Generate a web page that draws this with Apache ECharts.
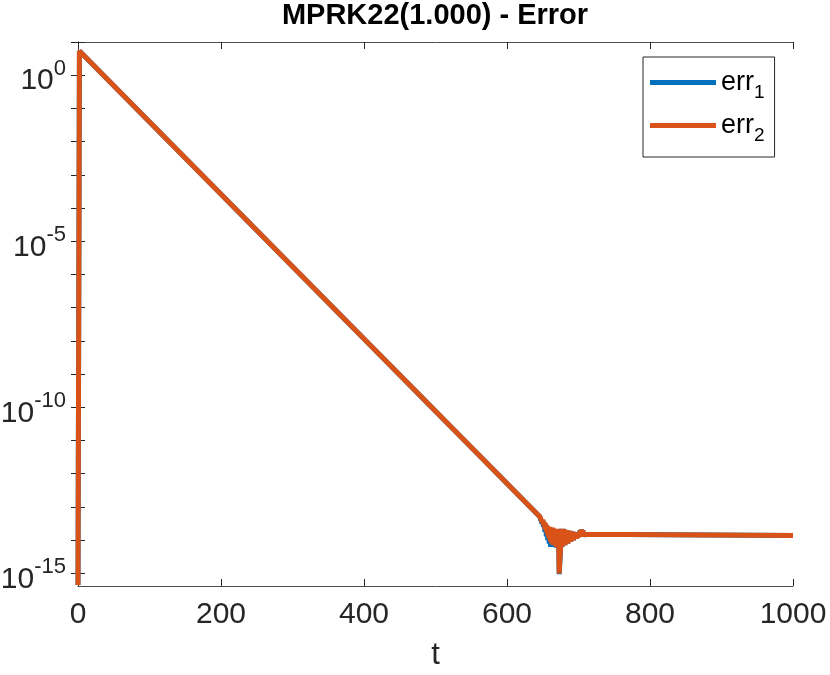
<!DOCTYPE html>
<html>
<head>
<meta charset="utf-8">
<title>MPRK22(1.000) - Error</title>
<script src="https://cdn.jsdelivr.net/npm/echarts@6/dist/echarts.min.js"></script>
<style>
  html, body { margin: 0; padding: 0; background: #fff; }
  #main { width: 830px; height: 675px; }
</style>
</head>
<body>
<div id="main"></div>
<script>
// time points (t); dense around the noisy part near t=650..710
var tVals = [0, 2,
  646, 647, 648, 649, 650, 651, 652, 653, 654, 655, 656, 657, 658, 659, 660,
  661, 662, 663, 664, 665, 666, 667, 668, 669, 670, 671, 672, 673, 674, 675,
  676, 677, 678, 679, 680, 681, 682, 683, 684, 685, 686, 687, 688, 689, 690,
  691, 692, 693, 694, 695, 696, 697, 698, 699, 700, 701, 702, 703, 704, 705,
  706, 707, 708, 709, 1000];

// err_1 (blue), mostly hidden under err_2
var err1 = [4.5e-16, 5.4,
  5.1e-14, 4.2e-14, 4.5e-14, 3.2e-14, 4.0e-14, 2.5e-14, 3.5e-14, 1.8e-14, 3.0e-14, 1.3e-14, 2.6e-14, 1.0e-14, 2.4e-14, 7.9e-15, 2.4e-14,
  6.3e-15, 2.3e-14, 6.3e-15, 2.3e-14, 6.3e-15, 2.1e-14, 6.3e-15, 2.1e-14, 6.0e-15, 2.1e-14, 6.0e-15, 1.9e-14, 9.5e-16, 9.0e-16, 6.0e-15,
  2.2e-14, 6.3e-15, 2.2e-14, 7.1e-15, 2.1e-14, 7.1e-15, 2.0e-14, 7.9e-15, 2.0e-14, 7.9e-15, 1.9e-14, 8.9e-15, 1.9e-14, 8.9e-15, 1.8e-14,
  1.0e-14, 1.8e-14, 1.0e-14, 1.7e-14, 1.1e-14, 1.7e-14, 1.1e-14, 1.6e-14, 1.2e-14, 1.6e-14, 1.3e-14, 1.9e-14, 1.3e-14, 2.1e-14, 1.3e-14,
  2.0e-14, 1.3e-14, 1.5e-14, 1.38e-14, 1.38e-14];

// err_2 (orange)
var err2 = [4.5e-16, 5.4,
  5.1e-14, 4.5e-14, 4.7e-14, 3.5e-14, 4.2e-14, 2.8e-14, 3.5e-14, 2.2e-14, 3.2e-14, 1.8e-14, 2.8e-14, 1.4e-14, 2.5e-14, 1.1e-14, 2.5e-14,
  8.9e-15, 2.4e-14, 7.9e-15, 2.4e-14, 7.1e-15, 2.2e-14, 7.1e-15, 2.2e-14, 6.3e-15, 2.2e-14, 6.3e-15, 2.0e-14, 1.0e-15, 9.5e-16, 6.3e-15,
  2.2e-14, 6.3e-15, 2.2e-14, 7.1e-15, 2.1e-14, 7.1e-15, 2.0e-14, 7.9e-15, 2.0e-14, 7.9e-15, 1.9e-14, 8.9e-15, 1.9e-14, 8.9e-15, 1.8e-14,
  1.0e-14, 1.8e-14, 1.0e-14, 1.7e-14, 1.1e-14, 1.7e-14, 1.1e-14, 1.6e-14, 1.2e-14, 1.6e-14, 1.3e-14, 1.9e-14, 1.3e-14, 2.1e-14, 1.3e-14,
  2.0e-14, 1.3e-14, 1.5e-14, 1.38e-14, 1.38e-14];

// decades (log10) : ticks on every decade, labels every 5
var yTickExp = [-15, -14, -13, -12, -11, -10, -9, -8, -7, -6, -5, -4, -3, -2, -1, 0, 1];
var yLabelExp = [-15, -10, -5, 0];

var axisColor = '#4d4d4d';
var textColor = '#262626';
var fontFam = '"Liberation Sans", Arial, Helvetica, sans-serif';

function toPairs(t, e) {
  var out = [];
  for (var i = 0; i < t.length; i++) out.push([t[i], Math.log10(e[i])]);
  return out;
}

var yAxisBase = {
  type: 'value',
  min: -15.38,
  max: 1,
  splitLine: { show: false },
  axisLine: { show: true, lineStyle: { color: axisColor, width: 1 } },
  axisTick: { show: true, inside: true, length: 7, customValues: yTickExp, lineStyle: { color: textColor } }
};

var myChart = echarts.init(document.getElementById('main'));
myChart.setOption({
  animation: false,
  backgroundColor: '#fff',
  title: {
    text: 'MPRK22(1.000) - Error',
    left: 435, top: 1, textAlign: 'center', padding: 0,
    textStyle: { fontFamily: fontFam, fontSize: 29, fontWeight: 'bold', color: '#000' }
  },
  grid: { left: 78, right: 37, top: 42, bottom: 89, outerBoundsMode: 'none' },
  legend: {
    orient: 'vertical',
    left: 643, top: 57,
    padding: [6, 10, 12, 7],
    itemWidth: 66, itemHeight: 5, itemGap: 4,
    icon: 'rect',
    borderColor: textColor, borderWidth: 1,
    backgroundColor: '#fff',
    data: ['err1', 'err2'],
    formatter: function (name) { return '{a|err}{sub|' + name.slice(3) + '}'; },
    textStyle: {
      rich: {
        a: { fontFamily: fontFam, fontSize: 27, color: '#000', lineHeight: 34 },
        sub: { fontFamily: fontFam, fontSize: 19, color: '#000', padding: [20, 0, 0, 0], lineHeight: 34 }
      }
    }
  },
  xAxis: [{
    type: 'value', min: 0, max: 1000, interval: 200,
    name: 't', nameLocation: 'middle', nameGap: 54,
    nameTextStyle: { fontFamily: fontFam, fontSize: 31, color: textColor },
    splitLine: { show: false },
    axisLine: { show: true, onZero: false, lineStyle: { color: axisColor, width: 1 } },
    axisTick: { inside: true, length: 7, lineStyle: { color: textColor } },
    axisLabel: {
      fontFamily: fontFam, fontSize: 30, color: textColor, margin: 14,
      formatter: function (v) { return String(v); }
    }
  }, {
    type: 'value', min: 0, max: 1000, interval: 200, position: 'top',
    splitLine: { show: false },
    axisLine: { show: true, onZero: false, lineStyle: { color: axisColor, width: 1 } },
    axisTick: { inside: true, length: 7, lineStyle: { color: textColor } },
    axisLabel: { show: false }
  }],
  yAxis: [
    Object.assign({}, yAxisBase, {
      position: 'left',
      axisLabel: {
        customValues: yLabelExp,
        margin: 12,
        formatter: function (v) { return '{b|10}{s|' + v + '}'; },
        rich: {
          b: { fontFamily: fontFam, fontSize: 30, color: textColor, padding: [12, 0, 0, 0] },
          s: { fontFamily: fontFam, fontSize: 22, color: textColor, padding: [0, 0, 12, 0] }
        }
      }
    }),
    Object.assign({}, yAxisBase, { position: 'right', axisLabel: { show: false } })
  ],
  series: [{
    name: 'err1', type: 'line', showSymbol: false, symbol: 'none',
    lineStyle: { color: '#0072BD', width: 5 }, itemStyle: { color: '#0072BD' },
    data: toPairs(tVals, err1)
  }, {
    name: 'err2', type: 'line', showSymbol: false, symbol: 'none',
    lineStyle: { color: '#D95319', width: 5 }, itemStyle: { color: '#D95319' },
    data: toPairs(tVals, err2)
  }]
});
</script>
</body>
</html>
